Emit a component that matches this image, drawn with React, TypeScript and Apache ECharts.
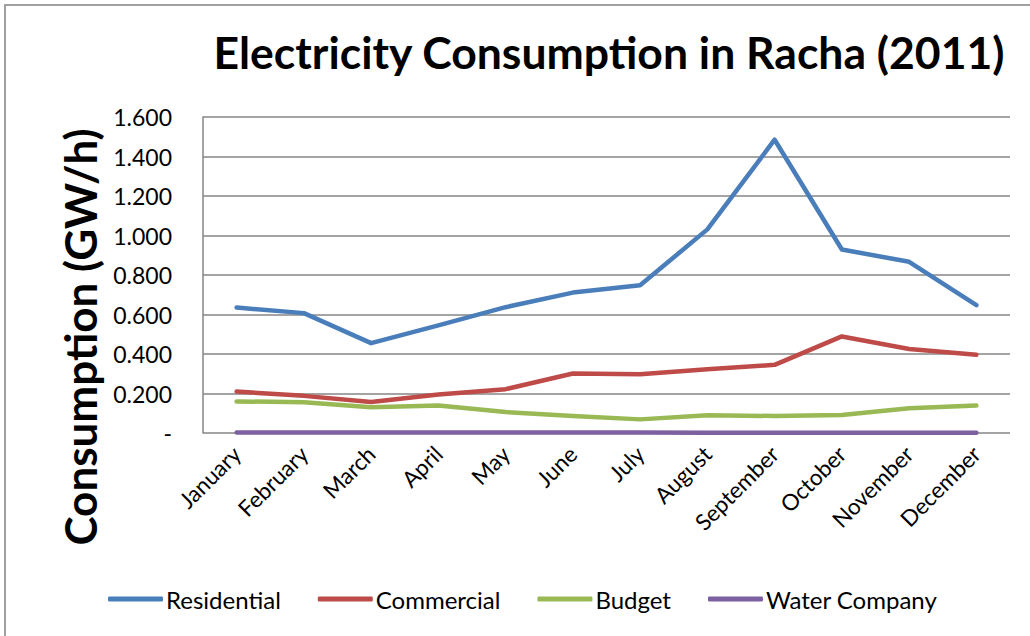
import React, { useEffect, useRef } from "react";
import * as echarts from "echarts";

const months = ["January", "February", "March", "April", "May", "June", "July", "August", "September", "October", "November", "December"];
const residential = [0.635, 0.607, 0.455, 0.545, 0.637, 0.711, 0.748, 1.031, 1.485, 0.929, 0.867, 0.647];
const commercial = [0.21, 0.188, 0.157, 0.195, 0.222, 0.301, 0.298, 0.323, 0.345, 0.489, 0.425, 0.396];
const budget = [0.16, 0.156, 0.13, 0.139, 0.106, 0.086, 0.069, 0.09, 0.086, 0.091, 0.125, 0.139];
const waterCompany = [0.003, 0.003, 0.002, 0.003, 0.003, 0.002, 0.002, 0.001, 0.001, 0.001, 0.001, 0.001];

const FONT = "Lato, 'Open Sans', sans-serif";

export default function App() {
  const ref = useRef<HTMLDivElement>(null);
  useEffect(() => {
    if (!ref.current) return;
    const chart = echarts.init(ref.current, null, { renderer: "svg" });
    const mk = (name: string, data: number[], color: string) => ({
      name,
      type: "line",
      data,
      symbol: "none",
      lineStyle: { color, width: 4.5, cap: "round", join: "round" },
      itemStyle: { color },
    });
    chart.setOption({
      animation: false,
      backgroundColor: "#ffffff",
      title: {
        text: "Electricity Consumption in Racha (2011)",
        left: 604,
        top: 24,
        textAlign: "center",
        textStyle: { fontFamily: FONT, fontSize: 44.5, fontWeight: "bold", color: "#000" },
      },
      graphic: [
        {
          type: "rect",
          shape: { x: 5, y: 5, width: 1040, height: 650 },
          style: { fill: "none", stroke: "#a0a0a0", lineWidth: 2 },
          silent: true,
        },
        {
          type: "text",
          x: 80,
          y: 337,
          rotation: Math.PI / 2,
          style: {
            text: "Consumption (GW/h)",
            fontFamily: FONT,
            fontSize: 44,
            fontWeight: "bold",
            fill: "#000",
            align: "center",
            verticalAlign: "middle",
          },
        },
      ],
      legend: {
        bottom: 20,
        left: 103,
        itemWidth: 55,
        itemHeight: 5,
        itemGap: 37,
        icon: "roundRect",
        textStyle: { fontFamily: FONT, fontSize: 24, color: "#000", padding: [0, 0, 0, -2] },
        data: ["Residential", "Commercial", "Budget", "Water Company"],
      },
      grid: { left: 203, right: 20, top: 117, bottom: 203 },
      xAxis: {
        type: "category",
        data: months,
        boundaryGap: true,
        axisLine: { show: false },
        axisTick: { show: false },
        axisLabel: { rotate: 45, fontFamily: FONT, fontSize: 22.5, color: "#000", margin: 17, interval: 0 },
      },
      yAxis: {
        type: "value",
        min: 0,
        max: 1.6,
        interval: 0.2,
        axisLine: { show: true, lineStyle: { color: "#868686", width: 1.5 } },
        axisTick: { show: false },
        splitLine: { lineStyle: { color: "#868686", width: 1.5 } },
        axisLabel: {
          fontFamily: FONT,
          fontSize: 23,
          color: "#000",
          margin: 31,
          formatter: (v: number) => (v === 0 ? "-" : v.toFixed(3)),
        },
      },
      series: [
        mk("Residential", residential, "#4a7ebb"),
        mk("Commercial", commercial, "#be4b48"),
        mk("Budget", budget, "#98b954"),
        mk("Water Company", waterCompany, "#7d60a0"),
      ],
    });
    return () => chart.dispose();
  }, []);
  return <div ref={ref} style={{ position: "fixed", left: 0, top: 0, width: 1030, height: 636 }} />;
}
